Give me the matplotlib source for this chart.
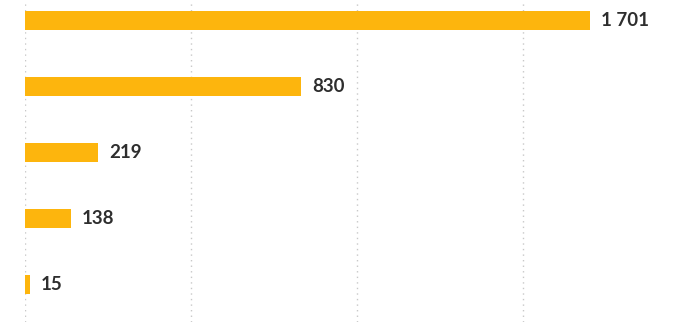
import matplotlib
matplotlib.use("Agg")
import matplotlib.pyplot as plt

values = [1701, 830, 219, 138, 15]
labels = ["1 701", "830", "219", "138", "15"]
gridticks = [0, 500, 1000, 1500]

W, H = 675, 322
fig = plt.figure(figsize=(W/100, H/100), dpi=100)
ax = fig.add_axes([25/W, 0, 1 - 25/W, 1])

y = list(range(len(values)))
ax.barh(y, values, height=0.29, color="#FDB50D", zorder=2)
for yi, v, lab in zip(y, values, labels):
    ax.annotate(lab, (v, yi), xytext=(8, 0), textcoords="offset points",
                va="center", ha="left", fontsize=13.5, color="#2e2e2e",
                fontfamily="Lato", fontweight="bold")

ax.set_xlim(0, (W - 25) / (565 / 1701))
ax.set_ylim(4.568, -0.311)
ax.set_xticks(gridticks)
ax.set_yticks([])
ax.grid(axis="x", linestyle=(0, (1, 3)), color="#c8c8c8", linewidth=1, zorder=0)
ax.tick_params(axis="x", length=0, labelbottom=False)
for s in ax.spines.values():
    s.set_visible(False)

fig.savefig("out.png", dpi=100)
